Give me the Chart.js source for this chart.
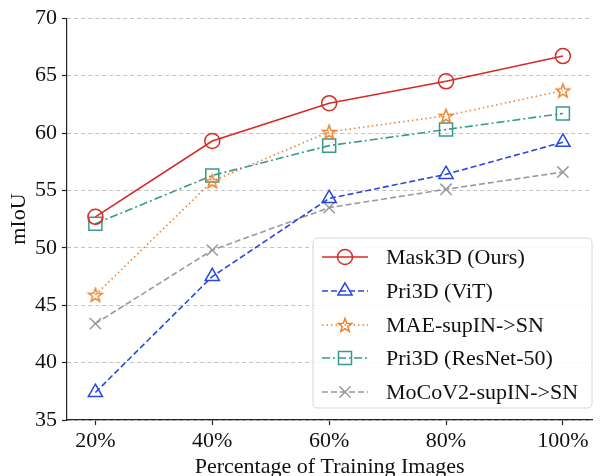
<!DOCTYPE html>
<html>
<head>
<meta charset="utf-8">
<style>
  html, body { margin: 0; padding: 0; background: #ffffff; }
  #wrap { width: 603px; height: 476px; }
</style>
<script src="https://cdn.jsdelivr.net/npm/chart.js@4/dist/chart.umd.min.js"></script>
</head>
<body>
<div id="wrap"><canvas id="c" width="603" height="476"></canvas></div>
<script>
// ---- data ----
const categories = ['20%', '40%', '60%', '80%', '100%'];
const xValues = [20, 40, 60, 80, 100];
const mask3d = [52.7, 59.3, 62.6, 64.5, 66.7];
const pri3dVit = [37.4, 47.5, 54.3, 56.4, 59.2];
const maeSupIN = [45.9, 55.8, 60.1, 61.5, 63.7];
const pri3dResNet = [52.1, 56.3, 58.9, 60.3, 61.7];
const mocoV2 = [43.4, 49.8, 53.5, 55.1, 56.6];
const yTicks = [35, 40, 45, 50, 55, 60, 65, 70];
const seriesNames = ['Mask3D (Ours)', 'Pri3D (ViT)', 'MAE-supIN->SN', 'Pri3D (ResNet-50)', 'MoCoV2-supIN->SN'];

const FONT = '"Liberation Serif", "Times New Roman", serif';

function starImage(color) {
  const c = document.createElement('canvas');
  c.width = 18; c.height = 18;
  const g = c.getContext('2d');
  const cx = 9, cy = 9.6, ro = 7.2, ri = 3.0;
  g.beginPath();
  for (let i = 0; i < 10; i++) {
    const r = i % 2 === 0 ? ro : ri;
    const a = -Math.PI / 2 + i * Math.PI / 5;
    const px = cx + r * Math.cos(a), py = cy + r * Math.sin(a);
    if (i === 0) g.moveTo(px, py); else g.lineTo(px, py);
  }
  g.closePath();
  g.lineWidth = 1.5;
  g.strokeStyle = color;
  g.lineJoin = 'miter';
  g.stroke();
  return c;
}

const toPts = arr => arr.map((v, i) => ({ x: xValues[i], y: v }));

const styles = [
  { color: '#d62a23', dash: [], pointStyle: 'circle', radius: 7.5 },
  { color: '#2a48e0', dash: [6, 3], pointStyle: 'triangle', radius: 8.2 },
  { color: '#f0812a', dash: [1.5, 3], pointStyle: starImage('#f0812a'), radius: 8 },
  { color: '#3a998a', dash: [8, 3, 2, 3], pointStyle: 'rect', radius: 9.2 },
  { color: '#9a9a9a', dash: [6, 3], pointStyle: 'crossRot', radius: 8 }
];
const seriesData = [mask3d, pri3dVit, maeSupIN, pri3dResNet, mocoV2];

const datasets = seriesData.map((arr, i) => ({
  label: seriesNames[i],
  data: toPts(arr),
  borderColor: styles[i].color,
  backgroundColor: 'rgba(0,0,0,0)',
  borderWidth: 1.6,
  borderDash: styles[i].dash,
  pointStyle: styles[i].pointStyle,
  pointRadius: styles[i].radius,
  pointHoverRadius: styles[i].radius,
  pointBorderColor: styles[i].color,
  pointBackgroundColor: 'rgba(0,0,0,0)',
  pointBorderWidth: 1.5,
  tension: 0,
  fill: false
}));

const legendPlugin = {
  id: 'inlineLegend',
  afterDatasetsDraw(chart) {
    const ctx = chart.ctx;
    const bx = 313, by = 238, bw = 279, bh = 170, r = 5;
    ctx.save();
    ctx.beginPath();
    ctx.moveTo(bx + r, by);
    ctx.lineTo(bx + bw - r, by);
    ctx.quadraticCurveTo(bx + bw, by, bx + bw, by + r);
    ctx.lineTo(bx + bw, by + bh - r);
    ctx.quadraticCurveTo(bx + bw, by + bh, bx + bw - r, by + bh);
    ctx.lineTo(bx + r, by + bh);
    ctx.quadraticCurveTo(bx, by + bh, bx, by + bh - r);
    ctx.lineTo(bx, by + r);
    ctx.quadraticCurveTo(bx, by, bx + r, by);
    ctx.closePath();
    ctx.fillStyle = 'rgba(255,255,255,0.85)';
    ctx.fill();
    ctx.lineWidth = 1;
    ctx.strokeStyle = '#d6d6d6';
    ctx.stroke();

    const rowY = [257, 291, 325, 358, 392];
    const x0 = 322, x1 = 368, xm = 345, tx = 386;
    chart.data.datasets.forEach((ds, i) => {
      const y = rowY[i];
      ctx.save();
      ctx.beginPath();
      ctx.setLineDash(ds.borderDash || []);
      ctx.lineWidth = ds.borderWidth;
      ctx.strokeStyle = ds.borderColor;
      ctx.moveTo(x0, y);
      ctx.lineTo(x1, y);
      ctx.stroke();
      ctx.setLineDash([]);
      ctx.strokeStyle = ds.pointBorderColor;
      ctx.fillStyle = 'rgba(0,0,0,0)';
      ctx.lineWidth = ds.pointBorderWidth;
      Chart.helpers.drawPoint(ctx, {
        pointStyle: ds.pointStyle,
        radius: ds.pointRadius,
        rotation: 0,
        borderWidth: ds.pointBorderWidth
      }, xm, y);
      ctx.restore();
      ctx.fillStyle = '#111111';
      ctx.font = '22px ' + FONT;
      ctx.textBaseline = 'middle';
      ctx.textAlign = 'left';
      ctx.fillText(ds.label, tx, y + 1);
    });
    ctx.restore();
  }
};

new Chart(document.getElementById('c'), {
  type: 'line',
  data: { datasets },
  options: {
    responsive: false,
    devicePixelRatio: 1,
    animation: false,
    events: [],
    layout: { padding: { top: 16, right: 0, bottom: 0, left: 0 } },
    plugins: { legend: { display: false }, tooltip: { enabled: false } },
    scales: {
      x: {
        type: 'linear',
        min: 15.14,
        max: 105.03,
        afterBuildTicks: s => { s.ticks = xValues.map(v => ({ value: v })); },
        afterFit: s => { s.height = 56; },
        ticks: {
          callback: (v) => categories[xValues.indexOf(v)],
          font: { family: FONT, size: 22 },
          color: '#111111',
          padding: 3,
          maxRotation: 0,
          autoSkip: false
        },
        grid: {
          drawOnChartArea: false,
          drawTicks: true,
          tickLength: 5,
          tickColor: '#222222',
          tickWidth: 1.2
        },
        border: { display: true, color: '#222222', width: 1.2 },
        title: {
          display: true,
          text: 'Percentage of Training Images',
          font: { family: FONT, size: 22 },
          color: '#111111',
          padding: { top: 0, bottom: -4 }
        }
      },
      y: {
        type: 'linear',
        min: 35,
        max: 70,
        afterBuildTicks: s => { s.ticks = yTicks.map(v => ({ value: v })); },
        afterFit: s => { s.width = 67; },
        ticks: {
          font: { family: FONT, size: 22 },
          color: '#111111',
          padding: 5
        },
        grid: {
          color: '#c4c4c4',
          lineWidth: 1,
          drawTicks: true,
          tickLength: 5,
          tickColor: '#222222',
          tickWidth: 1.2,
          tickBorderDash: []
        },
        border: { display: true, color: '#222222', width: 1.2, dash: [4, 3] },
        title: {
          display: true,
          text: 'mIoU',
          font: { family: FONT, size: 22 },
          color: '#111111',
          padding: { top: 6, bottom: 0 }
        }
      }
    }
  },
  plugins: [legendPlugin]
});
</script>
</body>
</html>
